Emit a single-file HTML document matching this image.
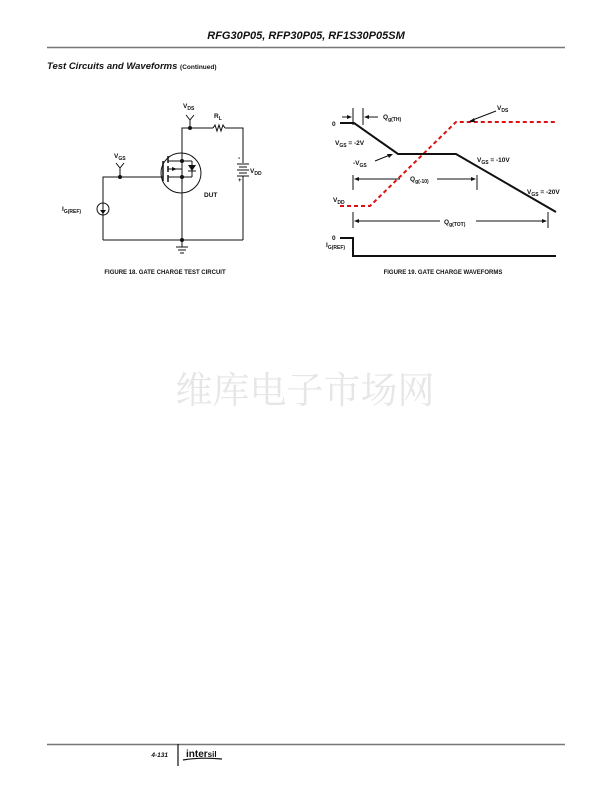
<!DOCTYPE html>
<html><head><meta charset="utf-8"><style>
body{margin:0;background:#fff;}
svg{display:block;}
text{font-family:"Liberation Sans",Arial,sans-serif;font-weight:bold;fill:#111;}
</style></head><body>
<svg width="612" height="792" viewBox="0 0 612 792" xmlns="http://www.w3.org/2000/svg">
<text x="306" y="39" font-size="11" font-style="italic" text-anchor="middle">RFG30P05, RFP30P05, RF1S30P05SM</text>
<line x1="47" y1="47.5" x2="565" y2="47.5" stroke="#777" stroke-width="1.5"/>
<text x="47" y="69" font-size="9.5" font-style="italic">Test Circuits and Waveforms <tspan font-size="6.5" font-style="normal">(Continued)</tspan></text>

<!-- Circuit -->
<g stroke="#111" stroke-width="1" fill="none">
<polyline points="190,128 182,128 182,240"/>
<line x1="190" y1="128" x2="213" y2="128"/>
<polyline points="213,128 215,125 217,131 219,125 221,131 223,125 225,128"/>
<polyline points="225,128 243,128 243,163"/>
<line x1="243" y1="176" x2="243" y2="240"/>
<line x1="237" y1="164" x2="249" y2="164"/>
<line x1="239" y1="167" x2="247" y2="167"/>
<line x1="237" y1="170" x2="249" y2="170"/>
<line x1="239" y1="173" x2="247" y2="173"/>
<line x1="237" y1="176" x2="249" y2="176"/>
<line x1="190" y1="128" x2="190" y2="120"/>
<polyline points="186,115 190,120 194,115"/>
<circle cx="181" cy="173" r="20"/>
<polyline points="103,240 103,177 163,177"/>
<line x1="163" y1="161" x2="163" y2="181" stroke-width="1.5"/>
<line x1="168" y1="156" x2="168" y2="163" stroke-width="1.5"/>
<line x1="168" y1="166" x2="168" y2="172" stroke-width="1.5"/>
<line x1="168" y1="175" x2="168" y2="182" stroke-width="1.5"/>
<line x1="168" y1="161" x2="192" y2="161"/>
<line x1="168" y1="169" x2="182" y2="169"/>
<line x1="168" y1="177" x2="192" y2="177"/>
<line x1="192" y1="161" x2="192" y2="177"/>
<line x1="120" y1="177" x2="120" y2="168"/>
<polyline points="116,163 120,168 124,163"/>
<circle cx="103" cy="209" r="6"/>
<line x1="103" y1="205" x2="103" y2="213"/>
<line x1="103" y1="240" x2="243" y2="240"/>
<line x1="182" y1="240" x2="182" y2="247"/>
<line x1="176" y1="247" x2="188" y2="247"/>
<line x1="178" y1="250" x2="186" y2="250"/>
<line x1="180" y1="253" x2="184" y2="253"/>
</g>
<polygon points="188,165 196,165 192,171" fill="#111"/>
<line x1="188" y1="171" x2="196" y2="171" stroke="#111"/>
<polygon points="177,169 172,167 172,171" fill="#111"/>
<polygon points="100,210 106,210 103,214" fill="#111"/>
<g fill="#111"><circle cx="190" cy="128" r="2"/><circle cx="182" cy="161" r="2"/><circle cx="182" cy="177" r="2"/><circle cx="120" cy="177" r="2"/><circle cx="182" cy="240" r="2"/></g>
<text x="183" y="108" font-size="6.5">V<tspan font-size="5" dy="2">DS</tspan></text>
<text x="214" y="118" font-size="6.5">R<tspan font-size="5" dy="2">L</tspan></text>
<text x="114" y="158" font-size="6.5">V<tspan font-size="5" dy="2">GS</tspan></text>
<text x="250" y="173" font-size="6.5">V<tspan font-size="5" dy="2">DD</tspan></text>
<text x="238" y="160" font-size="7">-</text>
<text x="238" y="182" font-size="6">+</text>
<text x="204" y="197" font-size="6.5">DUT</text>
<text x="62" y="211" font-size="6.5">I<tspan font-size="5" dy="2">G(REF)</tspan></text>
<text x="165" y="274" font-size="6" text-anchor="middle">FIGURE 18.  GATE CHARGE TEST CIRCUIT</text>

<!-- Waveforms -->
<polyline points="340,206 370,206 456,122 556,122" fill="none" stroke="#d11" stroke-width="2" stroke-dasharray="4,3"/>
<polyline points="340,123 354,123 398,154 456,154 556,212" fill="none" stroke="#111" stroke-width="2"/>
<g stroke="#111" stroke-width="1" fill="none">
<line x1="353" y1="108" x2="353" y2="125"/>
<line x1="363" y1="108" x2="363" y2="125"/>
<line x1="342" y1="117" x2="350" y2="117"/>
<line x1="366" y1="117" x2="378" y2="117"/>
<line x1="470" y1="121" x2="496" y2="111"/>
<line x1="375" y1="161" x2="390" y2="155"/>
<line x1="353" y1="175" x2="353" y2="190"/>
<line x1="477" y1="175" x2="477" y2="190"/>
<line x1="356" y1="179" x2="400" y2="179"/>
<line x1="437" y1="179" x2="474" y2="179"/>
<line x1="353" y1="212" x2="353" y2="228"/>
<line x1="548" y1="212" x2="548" y2="228"/>
<line x1="356" y1="221" x2="440" y2="221"/>
<line x1="476" y1="221" x2="545" y2="221"/>
</g>
<g fill="#111">
<polygon points="352,117 347,115 347,119"/>
<polygon points="364,117 369,115 369,119"/>
<polygon points="469,122 474,118 475,122"/>
<polygon points="393,154 387,154 389,158"/>
<polygon points="354,179 359,177 359,181"/>
<polygon points="476,179 471,177 471,181"/>
<polygon points="354,221 359,219 359,223"/>
<polygon points="547,221 542,219 542,223"/>
</g>
<polyline points="340,238 353,238 353,256 556,256" fill="none" stroke="#111" stroke-width="2"/>
<text x="332" y="126" font-size="6.5">0</text>
<text x="383" y="119" font-size="6.5">Q<tspan font-size="5" dy="2">g(TH)</tspan></text>
<text x="497" y="110" font-size="6.5">V<tspan font-size="5" dy="2">DS</tspan></text>
<text x="335" y="145" font-size="6.5">V<tspan font-size="5" dy="2">GS</tspan><tspan dy="-2"> = -2V</tspan></text>
<text x="353" y="165" font-size="6.5">-V<tspan font-size="5" dy="2">GS</tspan></text>
<text x="477" y="162" font-size="6.5">V<tspan font-size="5" dy="2">GS</tspan><tspan dy="-2"> = -10V</tspan></text>
<text x="410" y="181" font-size="6.5">Q<tspan font-size="5" dy="2">g(-10)</tspan></text>
<text x="333" y="202" font-size="6.5">V<tspan font-size="5" dy="2">DD</tspan></text>
<text x="527" y="194" font-size="6.5">V<tspan font-size="5" dy="2">GS</tspan><tspan dy="-2"> = -20V</tspan></text>
<text x="444" y="224" font-size="6.5">Q<tspan font-size="5" dy="2">g(TOT)</tspan></text>
<text x="332" y="240" font-size="6.5">0</text>
<text x="326" y="247" font-size="6.5">I<tspan font-size="5" dy="2">G(REF)</tspan></text>
<text x="443" y="274" font-size="6" text-anchor="middle">FIGURE 19.  GATE CHARGE WAVEFORMS</text>

<text x="305" y="403" font-size="37" text-anchor="middle" style="font-family:'Noto Serif CJK SC','Liberation Serif',serif;font-weight:normal;fill:#e6e6e6">维库电子市场网</text>

<line x1="47" y1="744.5" x2="565" y2="744.5" stroke="#777" stroke-width="1.5"/>
<text x="168" y="757" font-size="6.5" font-style="italic" font-weight="normal" text-anchor="end">4-131</text>
<line x1="178" y1="744" x2="178" y2="766" stroke="#111" stroke-width="1.2"/>
<text x="186" y="757" font-size="10">inter<tspan font-size="8">sil</tspan></text>
<path d="M183 760 Q200 757 222 759" stroke="#111" stroke-width="1.2" fill="none"/>
</svg>
</body></html>
